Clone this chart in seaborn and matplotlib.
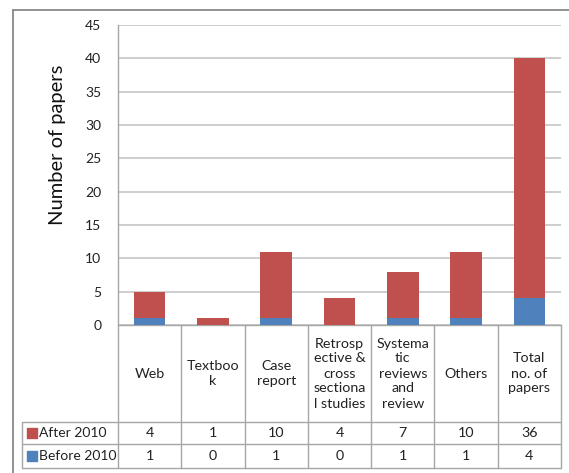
import pandas as pd
import seaborn as sns
import matplotlib.pyplot as plt

# data
categories = ["Web", "Textboo\nk", "Case\nreport",
              "Retrosp\nective &\ncross\nsectiona\nl studies",
              "Systema\ntic\nreviews\nand\nreview",
              "Others", "Total\nno. of\npapers"]
after_2010 = [4, 1, 10, 4, 7, 10, 36]
before_2010 = [1, 0, 1, 0, 1, 1, 4]
series_names = ["After 2010", "Before 2010"]
yticks = list(range(0, 50, 5))

red = "#C0504D"
blue = "#4F81BD"
grid_col = "#C6C6C6"
line_col = "#A6A6A6"

df = pd.DataFrame({"category": categories, "after": after_2010, "before": before_2010})
df["total"] = df["after"] + df["before"]

sns.set_style("white")
plt.rcParams["font.family"] = ["Lato", "DejaVu Sans"]

W, H = 569, 473
fig = plt.figure(figsize=(W / 100, H / 100), dpi=100)

# outer chart frame (cropped at the right and bottom)
fig.add_artist(plt.Line2D([13 / W, 13 / W], [0, 1 - 10 / H], color="#7F7F7F", lw=1.2))
fig.add_artist(plt.Line2D([13 / W, 1], [1 - 10 / H, 1 - 10 / H], color="#7F7F7F", lw=1.2))

px_left, px_right, px_top, px_zero, px_bottom = 118, 561, 25, 325, 468
ax = fig.add_axes([px_left / W, 1 - px_zero / H, (px_right - px_left) / W, (px_zero - px_top) / H])

sns.barplot(data=df, x="category", y="total", color=red, width=0.5, saturation=1,
            errorbar=None, ax=ax, zorder=3, linewidth=0)
sns.barplot(data=df, x="category", y="before", color=blue, width=0.5, saturation=1,
            errorbar=None, ax=ax, zorder=4, linewidth=0)

ax.set_xlim(-0.5, len(categories) - 0.5)
ax.set_ylim(0, 45)
ax.set_yticks(yticks)
ax.set_xticks([])
ax.set_xlabel("")
ax.set_ylabel("")
ax.yaxis.grid(True, color=grid_col, lw=1.2, zorder=0)
ax.set_axisbelow(True)
ax.tick_params(axis="y", length=0, pad=12, labelsize=10, labelcolor="#222222")
for s in ["top", "right"]:
    ax.spines[s].set_visible(False)
for s in ["left", "bottom"]:
    ax.spines[s].set_color(line_col)
    ax.spines[s].set_linewidth(1)

fig.text(57 / W, 1 - 145 / H, "Number of papers", rotation=90, ha="center", va="center",
         fontsize=14.5, color="#111111")

# data table under the chart
unit = (px_right - px_left) / len(categories)
leg_left = 22
tx0 = -0.5 - (px_left - leg_left) / unit
tax = fig.add_axes([leg_left / W, 1 - px_bottom / H, (px_right - leg_left) / W, (px_bottom - px_zero) / H])
tax.set_xlim(tx0, len(categories) - 0.5)
tax.set_ylim(px_bottom, px_zero)
tax.axis("off")

row_after, row_before = 422, 444
# vertical cell borders
for i in range(len(categories) + 1):
    tax.plot([i - 0.5, i - 0.5], [px_zero, px_bottom], color=line_col, lw=1, clip_on=False)
tax.plot([tx0, tx0], [row_after, px_bottom], color=line_col, lw=1, clip_on=False)
for yy in [row_after, row_before, px_bottom]:
    tax.plot([tx0, len(categories) - 0.5], [yy, yy], color=line_col, lw=1, clip_on=False)

fs = 10.3
for i, cat in enumerate(categories):
    tax.text(i, (px_zero + row_after) / 2, cat, ha="center", va="center", fontsize=fs,
             linespacing=1.3, color="#222222")
    tax.text(i, (row_after + row_before) / 2, str(after_2010[i]), ha="center", va="center",
             fontsize=fs, color="#222222")
    tax.text(i, (row_before + px_bottom) / 2, str(before_2010[i]), ha="center", va="center",
             fontsize=fs, color="#222222")

for name, col, y0, y1 in [(series_names[0], red, row_after, row_before),
                          (series_names[1], blue, row_before, px_bottom)]:
    yc = (y0 + y1) / 2
    tax.scatter([tx0 + 10 / unit], [yc], marker="s", s=45, color=col, clip_on=False)
    tax.text(tx0 + 17 / unit, yc, name, ha="left", va="center", fontsize=10, color="#222222")

fig.savefig("out.png", dpi=100)
